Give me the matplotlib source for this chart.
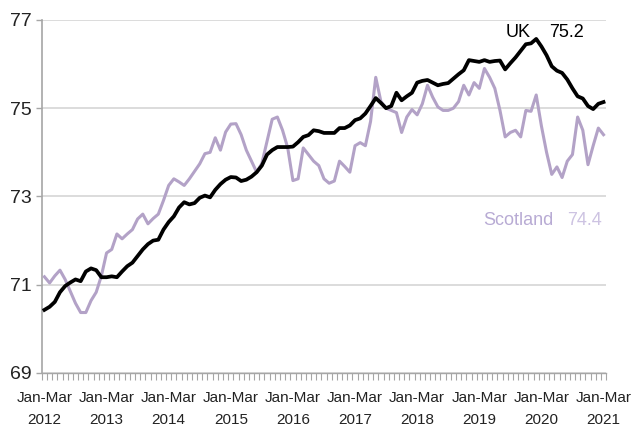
import matplotlib.pyplot as plt
import numpy as np

# rolling quarterly employment rate, Jan-Mar 2012 .. Jan-Mar 2021 (monthly steps)
year_labels = ["Jan-Mar\n" + str(y) for y in range(2012, 2022)]

uk = [70.43, 70.5, 70.61, 70.83, 70.97, 71.05, 71.12, 71.08, 71.3, 71.37,
      71.33, 71.17, 71.17, 71.19, 71.17, 71.3, 71.42, 71.5, 71.65, 71.8,
      71.92, 72.0, 72.02, 72.25, 72.42, 72.55, 72.75, 72.87, 72.82, 72.85,
      72.97, 73.02, 72.98, 73.15, 73.28, 73.38, 73.44, 73.43, 73.35, 73.38,
      73.45, 73.55, 73.7, 73.95, 74.05, 74.12, 74.12, 74.12, 74.13, 74.23,
      74.35, 74.39, 74.5, 74.48, 74.44, 74.44, 74.44, 74.55, 74.55, 74.61,
      74.73, 74.77, 74.88, 75.05, 75.23, 75.12, 75.0, 75.05, 75.35, 75.18,
      75.27, 75.35, 75.58, 75.62, 75.64, 75.58, 75.52, 75.55, 75.57, 75.67,
      75.77, 75.86, 76.09, 76.07, 76.05, 76.09, 76.05, 76.07, 76.08, 75.88,
      76.02, 76.15, 76.3, 76.45, 76.47, 76.57, 76.4, 76.2, 75.95, 75.85,
      75.8, 75.65, 75.45, 75.27, 75.22, 75.05, 74.98, 75.1, 75.14]

scotland = [71.18, 71.04, 71.2, 71.33, 71.12, 70.85, 70.58, 70.37, 70.37, 70.64,
            70.83, 71.2, 71.72, 71.8, 72.15, 72.04, 72.15, 72.25, 72.49, 72.6,
            72.38, 72.5, 72.6, 72.91, 73.25, 73.4, 73.33, 73.25, 73.4, 73.57,
            73.74, 73.97, 74.0, 74.33, 74.05, 74.46, 74.64, 74.65, 74.4, 74.05,
            73.8, 73.55, 73.75, 74.25, 74.75, 74.8, 74.5, 74.1, 73.36, 73.4,
            74.1, 73.95, 73.8, 73.7, 73.4, 73.3, 73.35, 73.8, 73.68, 73.55,
            74.15, 74.22, 74.15, 74.7, 75.7, 75.15, 75.0, 74.95, 74.9, 74.45,
            74.8, 74.97, 74.85, 75.1, 75.52, 75.25, 75.03, 74.95, 74.95, 75.0,
            75.15, 75.52, 75.3, 75.58, 75.45, 75.9, 75.7, 75.45, 74.95, 74.35,
            74.45, 74.5, 74.35, 74.95, 74.93, 75.3, 74.6, 74.0, 73.5, 73.67,
            73.43, 73.8, 73.95, 74.8, 74.5, 73.72, 74.15, 74.55, 74.4]

uk_latest = "75.2"
scot_latest = "74.4"

plt.rcParams['font.family'] = ['Liberation Sans', 'DejaVu Sans']

fig = plt.figure(figsize=(6.34, 4.34), dpi=100)
ax = fig.add_axes([0.066, 0.1406, 0.890, 0.8134])

x = np.arange(len(uk))
ax.plot(x, scotland, color='#b3a2c7', lw=2.2, solid_joinstyle='round', zorder=3)
ax.plot(x, uk, color='black', lw=2.7, solid_joinstyle='round', zorder=4)

ax.set_xlim(-0.5, len(uk) - 0.5)
ax.set_ylim(69, 77)
ax.set_yticks([69, 71, 73, 75, 77])
ax.set_yticklabels(['69', '71', '73', '75', '77'], fontsize=14, color='#222222')
ax.set_xticks(x[::12])
ax.set_xticklabels(year_labels, fontsize=11, color='#222222', linespacing=1.75)
ax.set_xticks(np.arange(-0.5, len(uk), 1), minor=True)
ax.tick_params(axis='x', which='major', length=0, pad=13)
ax.tick_params(axis='x', which='minor', length=5, width=0.8, color='#a6a6a6', direction='out')
ax.tick_params(axis='y', length=4, width=1, color='#a6a6a6', pad=3)

ax.grid(axis='y', color='#d9d9d9', lw=1.3, zorder=0)
for s in ['top', 'right']:
    ax.spines[s].set_visible(False)
ax.spines['left'].set_color('#a6a6a6')
ax.spines['bottom'].set_color('#a6a6a6')
ax.spines['left'].set_linewidth(1.2)
ax.spines['bottom'].set_linewidth(1.0)

# series labels
ax.text(91.6, 76.72, "UK", fontsize=13, color='black', ha='center', va='center')
ax.text(100.8, 76.72, uk_latest, fontsize=13, color='black', ha='center', va='center')
ax.text(91.5, 72.45, "Scotland", fontsize=13, color='#b8abd4', ha='center', va='center')
ax.text(104.4, 72.45, scot_latest, fontsize=13, color='#cdc3e2', ha='center', va='center')

fig.savefig("out.png", dpi=100)
